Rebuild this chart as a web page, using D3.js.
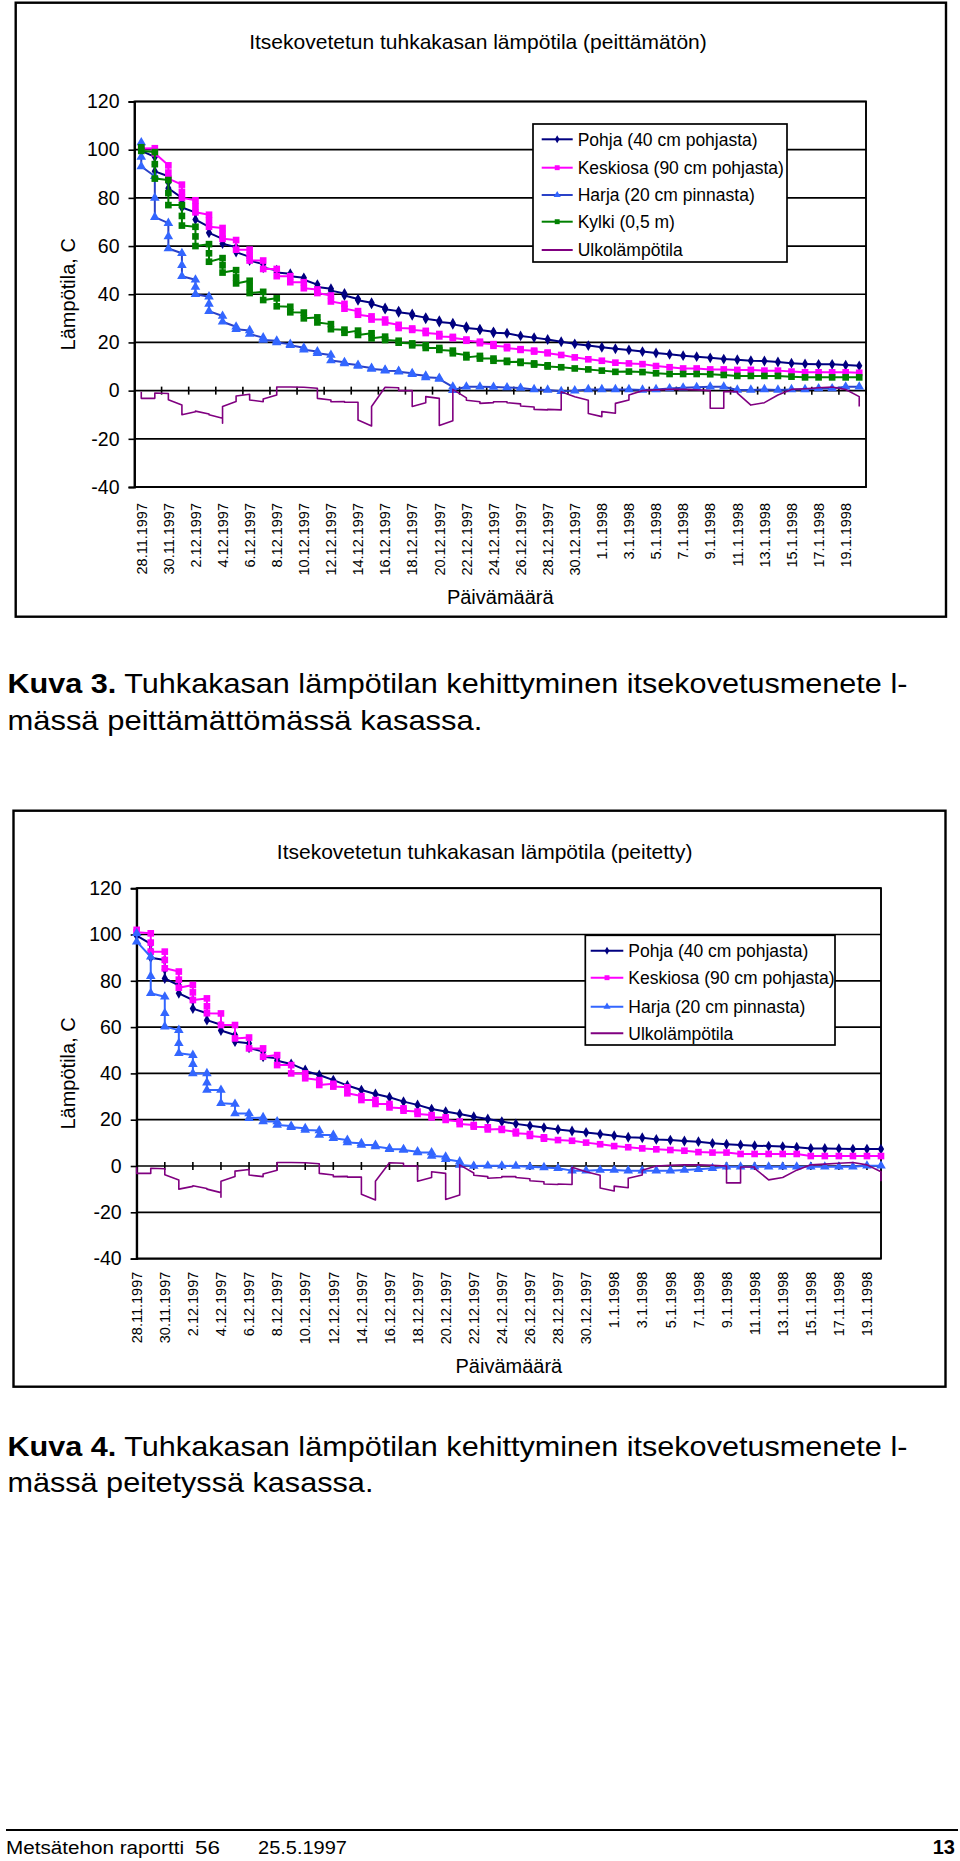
<!DOCTYPE html>
<html><head><meta charset="utf-8">
<script src="https://cdn.jsdelivr.net/npm/d3@7"></script>
<style>
body{margin:0;background:#fff;}
svg{display:block;}
text{font-family:"Liberation Sans", Arial, Helvetica, sans-serif;fill:#000;}
</style>
</head><body>
<svg id="page" width="960" height="1861"></svg>
<script>
// ---------- DATA ----------
const dateLabels = ["28.11.1997","30.11.1997","2.12.1997","4.12.1997","6.12.1997","8.12.1997","10.12.1997","12.12.1997","14.12.1997","16.12.1997","18.12.1997","20.12.1997","22.12.1997","24.12.1997","26.12.1997","28.12.1997","30.12.1997","1.1.1998","3.1.1998","5.1.1998","7.1.1998","9.1.1998","11.1.1998","13.1.1998","15.1.1998","17.1.1998","19.1.1998"];
const labelDays = [0,2,4,6,8,10,12,14,16,18,20,22,24,26,28,30,32,34,36,38,40,42,44,46,48,50,52];
const yTicks = [-40,-20,0,20,40,60,80,100,120];
const seriesNames = ["Pohja (40 cm pohjasta)","Keskiosa (90 cm pohjasta)","Harja (20 cm pinnasta)","Kylki (0,5 m)","Ulkolämpötila"];

// readings per day (day 0 = 28.11.1997), several readings a day share one x position
const outdoorTemp = [[-0.5,-3.2],[-3.2,-1.0],[-1.2,-3.8],[-6,-10],[-8.8,-8.5],[-9.7,-10],[-11.5,-13.5,-6.6],[-4.5,-2.2],[-1.5,-3.9],[-4.6,-3.5],[-1.8,1.5],[1.5],[1.4],[1.0,-3.2],[-3.9,-4.6],[-4.5,-4.8],[-4.8,-12.2],[-14.7,-6.6],[1.4],[1.2,0],[0,-6.6],[-5,-2.5],[-3.2,-14.5],[-12.5,0.5],[-3,-4],[-4.6,-5.3],[-5,-4.6],[-4.6,-5],[-5.5,-6.4],[-6.8,-7.8],[-8,-7.8],[-8,-0.5],[-2.5],[-4,-9.5],[-10.8,-8.7],[-9.4,-5.3],[-3.9,-1.8],[0],[0.3],[0.5],[0.5],[0.3],[0,-7.3],[-7.3,-0.4],[-0.4,-1],[-6],[-5],[-1.8],[0.5],[0.8],[1.2],[1.5],[0.5],[-2.5,-6.6]];

// Kuva 3 (peittämätön)
const pohja1 = [[101,99.5],[97,94,91],[89,86.5,84],[80,78,76],[74,71],[68,65.5],[63,61],[59.5,57.5],[55.5,54],[52.5,51],[50,49],[48.5,47.5],[46.8,46],[44,43],[42.3,41.5],[40.3,39.5],[38,37.5],[36.5,36],[34.3,33.8],[33,32.5],[31.8,31.3],[30.3,29.8],[29,28.5],[28,27.5],[26.5,26],[25.5,25.2],[24.4,24],[23.8],[22.7],[22],[21.2],[20.3],[19.4],[18.7],[18],[17.4],[16.9],[16.2],[15.6],[15.1],[14.5],[14.1],[13.6],[13.1],[12.8],[12.4],[12.3],[11.9],[11.4],[11.1],[10.9],[10.9],[10.6],[10.3]];
const keskiosa1 = [[101,100.5],[100.6,98.5],[93.5,90.5,88],[85.5,82.5,80],[79,76.5,74],[73,70.5,68],[67.5,65,63],[62.5,58.5],[58.5,56,54],[54,50.5],[50.5,47.5],[47.5,45],[45,42.5],[42,40.5],[39.5,37],[36,34],[33,31.5],[30.8,29.5],[29.5,28.3],[27.3,26],[25.8,25.2],[24.8,23.9],[23.5,22.5],[22.3,21.8],[21.2,20.7],[20.3,19.7],[19.3,18.6],[18.2,17.6],[17.2,16.9],[16.6,16.2],[15.8,15.5],[14.8],[13.8],[13],[12.4],[11.6],[11.3],[11],[10.2],[9.7],[9.2],[9.2],[8.8],[8.8],[8.6],[8.6],[8.3],[8.3],[7.9],[7.6],[7.6],[7.6],[7.6],[7.4]];
const harja1 = [[103,97,93],[89,80,72],[69.5,64,59],[57,52,47.5],[46,43,40],[39,36,33],[31,28.6],[26.5,25.5],[25,23.5],[22,21],[20.7,20],[19.3,18.8],[17.8,17],[16.2,15.5],[14.8,12.5],[11.8,11.3],[10.6,10.2],[9.4,9],[8.6,8.3],[8.1,7.8],[7.2,6.8],[6.2,5.5],[5.2,4.8],[1.6,0.2],[1.6],[1.6],[1.5],[1.3],[1.1],[0.5],[0.3],[-0.3],[0],[0.5],[0.5],[0.5],[0.5],[0.3],[0.5],[0.9],[1.2],[1.4],[1.6],[1.6],[0.3],[0.3],[0.5],[0.3],[0.5],[0.5],[0.9],[0.9],[1.6],[1.6]];
const kylki1 = [[101,99.5],[99,94,88],[87.4,82,77],[77,72.5,68.5],[68,64,60],[60.8,57,53.5],[55,52,49],[50,47,44.5],[45.6,43,40.5],[41,37.6],[38.3,35],[34.8,32.5],[32.4,30],[30.4,28.3],[27.6,25.5],[25.3,24],[24.9,23.1],[23.8,21.7],[22.4,21],[20.7,19.9],[19.6,18.8],[18.8,17.7],[17.7,16.9],[16.6,15.5],[14.8,13.8],[14.4,13.3],[13.3,12.4],[12.4,11.9],[12,11.5],[11.3,10.8],[10.5,10],[9.7],[9.2],[8.8],[8.3],[7.8],[7.9],[7.7],[7.2],[6.9],[6.9],[6.9],[6.8],[6.5],[6.1],[6.1],[6.1],[6.1],[5.8],[5.5],[5.5],[5.5],[5.5],[5.5]];

// Kuva 4 (peitetty)
const pohja2 = [[100,99.5],[96,93,90],[89,85,81],[78,74.6],[71.7,68],[66,63],[61,58.5],[56.6,53.7],[53,51],[49.4,47.2],[46.5,45.5],[44.1],[41.5,41],[39.3],[37.1],[34.8],[32.8],[31.1],[29.7],[27.8],[26.4],[24.6],[23.5],[22.5],[21.3],[20.3],[19.2],[18.2],[17.4],[16.6],[15.8],[15.1],[14.5],[13.8],[13.1],[12.4],[12.2],[11.5],[11.2],[10.8],[10.5],[9.8],[9.4],[9.1],[8.8],[8.6],[8.4],[8.1],[7.6],[7.6],[7.5],[7.3],[7.3],[7.3]];
const keskiosa2 = [[102,101],[100.5,96.5,92.6],[92.6,89,85.4],[84,80.5,77],[78.2,75,71.7],[72.4,69,66],[65.9,60.9],[60.9,55.1],[55.5,50.8],[50.8,47.2],[47.9,43.6],[43.6,40],[40,37.9],[37.1,35],[35.5,34.3],[34,31.4],[30.2,28.5],[28.5,26.8],[26.8,25.3],[24.9,23.9],[23.5,22.5],[22,21],[21,19.9],[19.2,18.1],[17.7,17],[16.7,15.8],[16,15.6],[14.8,14.1],[13.8,13],[12.4,11.8],[11.2],[10.9],[10.1],[9.4],[8.6],[8.1],[7.6],[7.2],[6.9],[6.6],[6],[5.8],[5.8],[5.2],[5.2],[5.2],[5.2],[5.2],[4.3],[4.3],[4.3],[4.3],[4.3],[4.3]];
const harja2 = [[100.5,96.9],[90.4,82,74.6],[73.1,66,60.2],[58.7,53,48.7],[47.9,44,40],[40,36,32.8],[32.8,27.1],[26.8,22.7],[22.7,20.6],[21,19.2],[19.2,17.7],[17.3,16.7],[16.3,15.6],[15.3,13.4],[13.4,12],[11.2,10.2],[9.8,9.1],[9.1,8.4],[7.6,7.2],[7.2,6.9],[6.2,5.8],[5.8,4.3],[4,2.9],[1.9,0.4],[0],[0.1],[0.1],[0],[-0.3],[-0.6],[-1],[-2],[-2],[-1.7],[-1.7],[-2],[-2],[-2],[-2],[-1.7],[-1.4],[-1],[-0.3],[-0.3],[-0.3],[-0.3],[-0.3],[-0.3],[-0.3],[-0.3],[-0.3],[-0.3],[0.1],[0.1]];

// ---------- DRAWING ----------
const svg = d3.select("#page");
const C = {navy:"#000080", mag:"#FF00FF", blue:"#3366FF", blueLine1:"#2a42c8", green:"#008000", purple:"#800080"};

function drawChart(cfg){
  const g = svg.append("g");
  const P = cfg.plot;
  g.append("rect").attr("x",cfg.frame[0]).attr("y",cfg.frame[1]).attr("width",cfg.frame[2]).attr("height",cfg.frame[3])
    .attr("fill","#fff").attr("stroke","#000").attr("stroke-width",2.4);
  g.append("text").attr("x",cfg.titleX).attr("y",cfg.titleY).attr("text-anchor","middle").attr("font-size",21).text(cfg.title);

  const x = d3.scaleLinear().domain(cfg.xDomain).range([P.l, P.r]);
  const y = d3.scaleLinear().domain([-40,120]).range([P.b, P.t]);

  g.append("g").selectAll("line").data(yTicks).join("line")
    .attr("x1",P.l).attr("x2",P.r).attr("y1",d=>y(d)).attr("y2",d=>y(d))
    .attr("stroke","#000").attr("stroke-width",1.7);
  g.append("rect").attr("x",P.l).attr("y",P.t).attr("width",P.r-P.l).attr("height",P.b-P.t)
    .attr("fill","none").attr("stroke","#000").attr("stroke-width",1.9);

  const ya = g.append("g").attr("transform",`translate(${P.l},0)`)
    .call(d3.axisLeft(y).tickValues(yTicks).tickSize(6).tickPadding(9).tickFormat(d=>String(d)));
  ya.select(".domain").attr("stroke","#000").attr("stroke-width",1.9);
  ya.selectAll(".tick line").attr("stroke","#000").attr("stroke-width",1.6);
  ya.selectAll(".tick text").attr("font-size",19.5).attr("font-family",null).attr("fill","#000");

  // x tick marks crossing the 0 line
  g.append("g").selectAll("line").data(cfg.xTickDays).join("line")
    .attr("x1",d=>x(d)).attr("x2",d=>x(d)).attr("y1",y(0)-4).attr("y2",y(0)+4)
    .attr("stroke","#000").attr("stroke-width",1.6);

  // rotated date labels
  g.append("g").selectAll("text").data(labelDays).join("text")
    .attr("transform",d=>`translate(${x(d)},${cfg.labelTop}) rotate(-90)`)
    .attr("text-anchor","end").attr("dy","0.36em").attr("font-size",14.5)
    .text((d,i)=>dateLabels[i]);

  // axis titles
  g.append("text").attr("x",(P.l+P.r)/2).attr("y",cfg.xTitleY).attr("text-anchor","middle").attr("font-size",20).text("Päivämäärä");
  g.append("text").attr("transform",`translate(68,${(P.t+P.b)/2}) rotate(-90)`).attr("text-anchor","middle")
    .attr("dy","0.36em").attr("font-size",20).text("Lämpötila, C");

  // series
  const line = d3.line().x(p=>x(p[0])).y(p=>y(p[1]));
  cfg.series.forEach(s=>{
    const pts = s.data.flatMap((vals,d)=>vals.map(v=>[d,v]));
    g.append("path").attr("d",line(pts)).attr("fill","none").attr("stroke",s.line||s.color)
      .attr("stroke-width",s.width||2).attr("stroke-linejoin","round");
    if (s.symbol){
      const sym = d3.symbol(s.symbol, s.size)();
      g.append("g").selectAll("path").data(pts).join("path")
        .attr("transform",p=>`translate(${x(p[0])},${y(p[1])})`).attr("d",sym).attr("fill",s.color);
    }
  });

  // legend
  const L = cfg.legend;
  g.append("rect").attr("x",L.x).attr("y",L.y).attr("width",L.w).attr("height",L.h)
    .attr("fill","#fff").attr("stroke","#000").attr("stroke-width",1.7);
  cfg.series.forEach((s,i)=>{
    const cy = L.rows[i];
    g.append("line").attr("x1",L.lx1).attr("x2",L.lx2).attr("y1",cy).attr("y2",cy)
      .attr("stroke",s.line||s.color).attr("stroke-width",2);
    if (s.symbol){
      g.append("path").attr("transform",`translate(${(L.lx1+L.lx2)/2},${cy})`)
        .attr("d",d3.symbol(s.symbol, s.size*0.55)()).attr("fill",s.color);
    }
    g.append("text").attr("x",L.tx).attr("y",cy).attr("dy","0.36em").attr("font-size",17.5).text(s.name);
  });
}

const odd = labelDays.map(d=>d+1.5);

drawChart({
  frame:[15.7,2.7,930.3,614],
  title:"Itsekovetetun tuhkakasan lämpötila (peittämätön)", titleX:478, titleY:48.5,
  plot:{l:134.5,r:866,t:101.5,b:487},
  xDomain:[-0.5,53.5], xTickDays:odd, labelTop:503, xTitleY:603.5,
  legend:{x:533,y:124,w:254,h:138,rows:[139.3,167.7,195,221.7,250],lx1:541.7,lx2:572.7,tx:577.7},
  series:[
    {name:seriesNames[0],data:pohja1,color:C.navy,symbol:d3.symbolDiamond,size:34},
    {name:seriesNames[1],data:keskiosa1,color:C.mag,symbol:d3.symbolSquare,size:44},
    {name:seriesNames[2],data:harja1,color:C.blue,line:C.blueLine1,symbol:d3.symbolTriangle,size:40},
    {name:seriesNames[3],data:kylki1,color:C.green,symbol:d3.symbolSquare,size:44},
    {name:seriesNames[4],data:outdoorTemp,color:C.purple,width:1.6}
  ]
});

drawChart({
  frame:[13.5,810.7,932,576],
  title:"Itsekovetetun tuhkakasan lämpötila (peitetty)", titleX:484.6, titleY:858.5,
  plot:{l:136.7,r:881,t:888.2,b:1258.6},
  xDomain:[0,53], xTickDays:labelDays.slice(1), labelTop:1271.7, xTitleY:1373,
  legend:{x:585.3,y:935.3,w:249.7,h:109.7,rows:[950.7,977.7,1006.7,1033.3],lx1:590.7,lx2:623.3,tx:628.3},
  series:[
    {name:seriesNames[0],data:pohja2,color:C.navy,symbol:d3.symbolDiamond,size:34},
    {name:seriesNames[1],data:keskiosa2,color:C.mag,symbol:d3.symbolSquare,size:44},
    {name:seriesNames[2],data:harja2,color:C.blue,symbol:d3.symbolTriangle,size:40},
    {name:seriesNames[4],data:outdoorTemp,color:C.purple,width:1.6}
  ]
});

// captions
function caption(y1, y2, num, line2, w2){
  const t = svg.append("text").attr("x",7.4).attr("y",y1).attr("font-size",28)
    .attr("textLength",900).attr("lengthAdjust","spacingAndGlyphs");
  t.append("tspan").attr("font-weight","bold").text(num);
  t.append("tspan").text(" Tuhkakasan lämpötilan kehittyminen itsekovetusmenete l-");
  svg.append("text").attr("x",7.4).attr("y",y2).attr("font-size",28)
    .attr("textLength",w2).attr("lengthAdjust","spacingAndGlyphs").text(line2);
}
caption(693, 730, "Kuva 3.", "mässä peittämättömässä kasassa.", 475);
caption(1456, 1492, "Kuva 4.", "mässä peitetyssä kasassa.", 366);

// footer
svg.append("line").attr("x1",6).attr("x2",958).attr("y1",1830).attr("y2",1830).attr("stroke","#000").attr("stroke-width",2);
const ft = [["Metsätehon raportti",6,178],["56",195,25],["25.5.1997",258,89]];
ft.forEach(f=>svg.append("text").attr("x",f[1]).attr("y",1854).attr("font-size",18)
  .attr("textLength",f[2]).attr("lengthAdjust","spacingAndGlyphs").text(f[0]));
svg.append("text").attr("x",955).attr("y",1854).attr("text-anchor","end").attr("font-size",20).attr("font-weight","bold").text("13");
</script>
</body></html>
